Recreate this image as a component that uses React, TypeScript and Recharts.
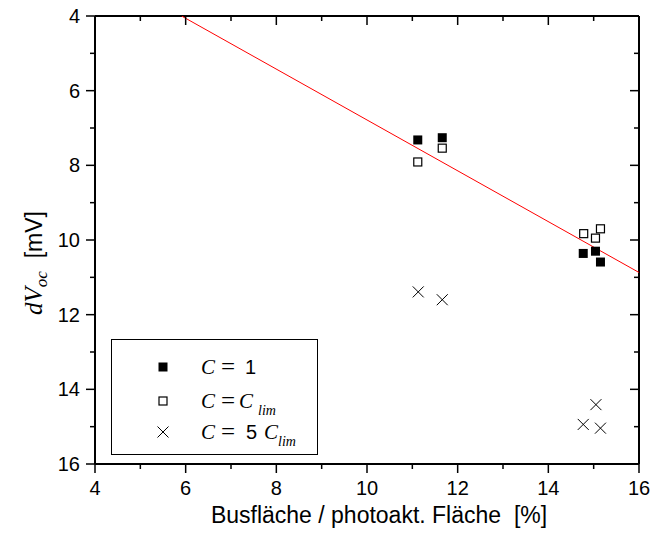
import React from 'react';
import { ScatterChart, Scatter, XAxis, YAxis } from 'recharts';

// dV_oc vs. bus-bar area fraction for three values of C
const solidSquares = [
  { x: 11.12, y: 7.32 },
  { x: 11.66, y: 7.26 },
  { x: 14.77, y: 10.36 },
  { x: 15.04, y: 10.3 },
  { x: 15.15, y: 10.59 },
];
const openSquares = [
  { x: 11.12, y: 7.91 },
  { x: 11.66, y: 7.54 },
  { x: 14.78, y: 9.83 },
  { x: 15.04, y: 9.95 },
  { x: 15.15, y: 9.7 },
];
const crosses = [
  { x: 11.13, y: 11.39 },
  { x: 11.66, y: 11.6 },
  { x: 15.05, y: 14.41 },
  { x: 14.77, y: 14.94 },
  { x: 15.15, y: 15.04 },
];
// linear fit through the C = 1 / C_lim group
const fitLine = [
  { x: 5.91, y: 4 },
  { x: 16, y: 10.87 },
];

const xTicks = [4, 5, 6, 7, 8, 9, 10, 11, 12, 13, 14, 15, 16];
const yTicks = [4, 5, 6, 7, 8, 9, 10, 11, 12, 13, 14, 15, 16];

const SANS = '"Liberation Sans", Arial, sans-serif';
const SERIF = '"Liberation Serif", "Times New Roman", serif';

const isMajor = (v: number) => v % 2 === 0;

function BottomTick({ x, y, payload }: any) {
  const v = payload.value;
  return (
    <g>
      <line x1={x} x2={x} y1={y} y2={y + (isMajor(v) ? 9 : 5)} stroke="#000" strokeWidth={1.5} />
      {isMajor(v) && (
        <text x={x} y={y + 31} textAnchor="middle" fontFamily={SANS} fontSize={20} fill="#000">{v}</text>
      )}
    </g>
  );
}

function TopTick({ x, y, payload }: any) {
  const v = payload.value;
  return <line x1={x} x2={x} y1={y} y2={y + (isMajor(v) ? 9 : 5)} stroke="#000" strokeWidth={1.5} />;
}

function LeftTick({ x, y, payload }: any) {
  const v = payload.value;
  return (
    <g>
      <line x1={x - (isMajor(v) ? 9 : 5)} x2={x} y1={y} y2={y} stroke="#000" strokeWidth={1.5} />
      {isMajor(v) && (
        <text x={x - 15} y={y + 7} textAnchor="end" fontFamily={SANS} fontSize={20} fill="#000">{v}</text>
      )}
    </g>
  );
}

function RightTick({ x, y, payload }: any) {
  const v = payload.value;
  return <line x1={x - (isMajor(v) ? 9 : 5)} x2={x} y1={y} y2={y} stroke="#000" strokeWidth={1.5} />;
}

const FilledSquare = ({ cx, cy }: any) => <rect x={cx - 4.5} y={cy - 4.5} width={9} height={9} fill="#000" />;
const OpenSquare = ({ cx, cy }: any) => (
  <rect x={cx - 4} y={cy - 4} width={8} height={8} fill="#fff" stroke="#000" strokeWidth={1.2} />
);
const Cross = ({ cx, cy }: any) => (
  <g stroke="#000" strokeWidth={1}>
    <line x1={cx - 5.5} y1={cy - 5.5} x2={cx + 5.5} y2={cy + 5.5} />
    <line x1={cx - 5.5} y1={cy + 5.5} x2={cx + 5.5} y2={cy - 5.5} />
  </g>
);
const NoDot = () => <g />;

function YLabel() {
  return (
    <text transform="translate(42, 263) rotate(-90)" textAnchor="middle" fill="#000">
      <tspan fontFamily={SERIF} fontStyle="italic" fontSize={25}>dV</tspan>
      <tspan fontFamily={SERIF} fontStyle="italic" fontSize={17} dy={5}>oc</tspan>
      <tspan fontFamily={SANS} fontSize={23} dy={-5}>{'\u00a0\u00a0[mV]'}</tspan>
    </text>
  );
}

function LegendBox() {
  const rows = [27, 61, 92];
  const C = (x: number, y: number) => (
    <text x={x} y={y} fontFamily={SERIF} fontStyle="italic" fontSize={21}>C</text>
  );
  const eq = (x: number, y: number) => (
    <text x={x} y={y} fontFamily={SERIF} fontSize={25}>=</text>
  );
  return (
    <div
      style={{
        position: 'absolute',
        left: 111,
        top: 339,
        width: 205,
        height: 114,
        border: '1.2px solid #000',
        background: '#fff',
      }}
    >
      <svg width={205} height={114} style={{ display: 'block' }}>
        <FilledSquare cx={51} cy={rows[0]} />
        <OpenSquare cx={51} cy={rows[1]} />
        <Cross cx={51} cy={rows[2]} />
        {C(89, rows[0] + 7)}
        {eq(109, rows[0] + 8)}
        <text x={133} y={rows[0] + 7} fontFamily={SANS} fontSize={20}>1</text>
        {C(89, rows[1] + 7)}
        {eq(109, rows[1] + 8)}
        {C(127, rows[1] + 7)}
        <text x={146} y={rows[1] + 14} fontFamily={SERIF} fontStyle="italic" fontSize={14}>lim</text>
        {C(89, rows[2] + 7)}
        {eq(109, rows[2] + 8)}
        <text x={134} y={rows[2] + 7} fontFamily={SANS} fontSize={20}>5</text>
        {C(152, rows[2] + 7)}
        <text x={166} y={rows[2] + 14} fontFamily={SERIF} fontStyle="italic" fontSize={14}>lim</text>
      </svg>
    </div>
  );
}

export default function App() {
  const axisLine = { stroke: '#000', strokeWidth: 2 };
  return (
    <div style={{ position: 'fixed', left: 0, top: 0, width: 651, height: 535, background: '#fff' }}>
      <style>{'.recharts-surface { overflow: visible; }'}</style>
      <ScatterChart width={651} height={535} margin={{ top: 15, right: 11, bottom: 8, left: 15 }}>
        <XAxis
          type="number"
          dataKey="x"
          domain={[4, 16]}
          ticks={xTicks}
          interval={0}
          allowDataOverflow
          height={63}
          axisLine={axisLine}
          tickLine={false}
          tickSize={0}
          tickMargin={0}
          tick={<BottomTick />}
          label={{
            value: 'Busfläche / photoakt. Fläche\u00a0\u00a0[%]',
            position: 'insideBottom',
            offset: 0,
            dx: 12,
            dy: -4,
            fontFamily: SANS,
            fontSize: 23,
            fill: '#000',
          }}
        />
        <XAxis
          xAxisId="top"
          orientation="top"
          type="number"
          dataKey="x"
          domain={[4, 16]}
          ticks={xTicks}
          interval={0}
          allowDataOverflow
          height={1}
          axisLine={axisLine}
          tickLine={false}
          tickSize={0}
          tickMargin={0}
          tick={<TopTick />}
        />
        <YAxis
          type="number"
          dataKey="y"
          domain={[4, 16]}
          reversed
          ticks={yTicks}
          interval={0}
          allowDataOverflow
          width={80}
          axisLine={axisLine}
          tickLine={false}
          tickSize={0}
          tickMargin={0}
          tick={<LeftTick />}
          label={{ content: () => <YLabel /> }}
        />
        <YAxis
          yAxisId="right"
          orientation="right"
          type="number"
          dataKey="y"
          domain={[4, 16]}
          reversed
          ticks={yTicks}
          interval={0}
          allowDataOverflow
          width={1}
          axisLine={axisLine}
          tickLine={false}
          tickSize={0}
          tickMargin={0}
          tick={<RightTick />}
        />
        <Scatter data={fitLine} line={{ stroke: '#ff0000', strokeWidth: 1 }} shape={<NoDot />} isAnimationActive={false} />
        <Scatter data={solidSquares} shape={<FilledSquare />} isAnimationActive={false} />
        <Scatter data={openSquares} shape={<OpenSquare />} isAnimationActive={false} />
        <Scatter data={crosses} shape={<Cross />} isAnimationActive={false} />
      </ScatterChart>
      <LegendBox />
    </div>
  );
}
